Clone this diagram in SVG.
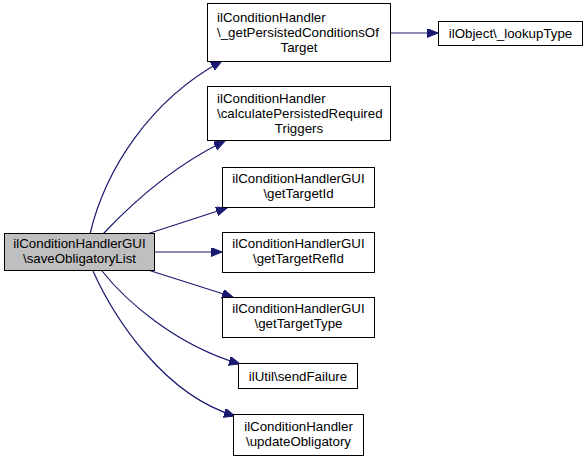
<svg xmlns="http://www.w3.org/2000/svg" width="588" height="461" viewBox="0 0 588 461">
<style>
.n rect{fill:#fff;stroke:#000;stroke-width:1}
.n text{font-family:"Liberation Sans",Arial,sans-serif;font-size:13.3px;fill:#000}
.c{text-anchor:middle}
#edges path{fill:none;stroke:#191970;stroke-width:1.2}
</style>
<defs>
<marker id="ah" markerUnits="userSpaceOnUse" markerWidth="12" markerHeight="10" refX="11" refY="4.5" orient="auto">
<polygon points="0,0 11,4.5 0,9" fill="#191970" stroke="#191970"/>
</marker>
</defs>
<rect width="588" height="461" fill="#fff"/>
<g id="edges">
<path d="M90,234 C105,170 150,100 222,61" marker-end="url(#ah)"/>
<path d="M103,234 C135,200 175,165 225,141" marker-end="url(#ah)"/>
<path d="M147,234 L227,208" marker-end="url(#ah)"/>
<path d="M155,252 L222,252" marker-end="url(#ah)"/>
<path d="M148,270 L233,297" marker-end="url(#ah)"/>
<path d="M102,271 C125,300 175,345 240,364" marker-end="url(#ah)"/>
<path d="M93,271 C115,320 165,395 235,416" marker-end="url(#ah)"/>
<path d="M390,33 L438,33" marker-end="url(#ah)"/>
</g>
<g id="main" class="n">
<rect x="4.5" y="233.5" width="150" height="37" style="fill:#bfbfbf"/>
<text class="c" x="79.5" y="248">ilConditionHandlerGUI</text>
<text class="c" x="79.5" y="263">\saveObligatoryList</text>
</g>
<g id="n1" class="n">
<rect x="207.5" y="3.5" width="183" height="58"/>
<text x="217" y="21.5">ilConditionHandler</text>
<text x="217" y="36.5">\_getPersistedConditionsOf</text>
<text class="c" x="299" y="51.5">Target</text>
</g>
<g id="n2" class="n">
<rect x="207.5" y="86.5" width="183" height="54"/>
<text x="217" y="102.5">ilConditionHandler</text>
<text x="217" y="117.5">\calculatePersistedRequired</text>
<text class="c" x="299" y="132.5">Triggers</text>
</g>
<g id="n3" class="n">
<rect x="438.5" y="21.5" width="144" height="24"/>
<text class="c" x="510.5" y="38">ilObject\_lookupType</text>
</g>
<g id="n4" class="n">
<rect x="222.5" y="167.5" width="152" height="40"/>
<text class="c" x="298.5" y="183">ilConditionHandlerGUI</text>
<text class="c" x="298.5" y="198">\getTargetId</text>
</g>
<g id="n5" class="n">
<rect x="222.5" y="232.5" width="152" height="40"/>
<text class="c" x="298.5" y="248">ilConditionHandlerGUI</text>
<text class="c" x="298.5" y="263">\getTargetRefId</text>
</g>
<g id="n6" class="n">
<rect x="222.5" y="297.5" width="152" height="40"/>
<text class="c" x="298.5" y="313">ilConditionHandlerGUI</text>
<text class="c" x="298.5" y="328">\getTargetType</text>
</g>
<g id="n7" class="n">
<rect x="238.5" y="363.5" width="119" height="25"/>
<text class="c" x="298" y="380.5">ilUtil\sendFailure</text>
</g>
<g id="n8" class="n">
<rect x="233.5" y="414.5" width="130" height="41"/>
<text class="c" x="298.5" y="430.5">ilConditionHandler</text>
<text class="c" x="298.5" y="445.5">\updateObligatory</text>
</g>
</svg>
